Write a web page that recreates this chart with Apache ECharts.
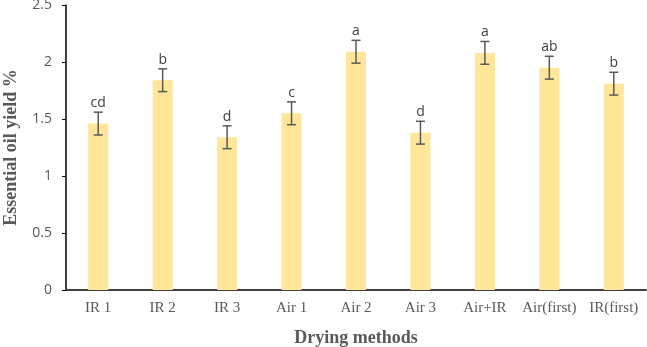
<!DOCTYPE html>
<html>
<head>
<meta charset="utf-8">
<script src="https://cdn.jsdelivr.net/npm/echarts@6/dist/echarts.min.js"></script>
<style>
  html, body { margin: 0; padding: 0; background: #fff; }
  #chart { width: 647px; height: 347px; }
</style>
</head>
<body>
<div id="chart"></div>
<script>
var categories = ['IR 1', 'IR 2', 'IR 3', 'Air 1', 'Air 2', 'Air 3', 'Air+IR', 'Air(first)', 'IR(first)'];
var yieldValues = [1.46, 1.84, 1.34, 1.55, 2.09, 1.38, 2.08, 1.95, 1.81];
var errValues = [0.10, 0.10, 0.10, 0.10, 0.10, 0.10, 0.10, 0.10, 0.10];
var letters = ['cd', 'b', 'd', 'c', 'a', 'd', 'a', 'ab', 'b'];

var chart = echarts.init(document.getElementById('chart'));

var errData = categories.map(function (c, i) {
    return [i, yieldValues[i] - errValues[i], yieldValues[i] + errValues[i]];
});

chart.setOption({
    animation: false,
    grid: { left: 66, right: 1, top: 5, bottom: 57, containLabel: false, outerBoundsMode: 'none' },
    xAxis: {
        type: 'category',
        data: categories,
        name: 'Drying methods',
        nameLocation: 'middle',
        nameGap: 39,
        nameTextStyle: { fontFamily: 'Liberation Serif', fontWeight: 'bold', fontSize: 18, color: '#595959' },
        axisLine: { lineStyle: { color: '#404040', width: 2 } },
        axisTick: { show: false },
        axisLabel: { fontFamily: 'Liberation Serif', fontSize: 15, color: '#595959', margin: 11, interval: 0 }
    },
    yAxis: {
        type: 'value',
        min: 0,
        max: 2.5,
        interval: 0.5,
        name: 'Essential oil yield %',
        nameLocation: 'middle',
        nameGap: 46,
        nameTextStyle: { fontFamily: 'Liberation Serif', fontWeight: 'bold', fontSize: 18, color: '#595959' },
        axisLine: { show: true, lineStyle: { color: '#000', width: 1.5 } },
        axisTick: { show: true, length: 4, lineStyle: { color: '#000' } },
        splitLine: { show: false },
        axisLabel: { fontFamily: 'Open Sans', fontSize: 14, color: '#595959', margin: 14 }
    },
    series: [
        {
            type: 'bar',
            data: yieldValues,
            barWidth: 20,
            itemStyle: { color: '#FFE699' },
            z: 1
        },
        {
            type: 'custom',
            data: errData,
            z: 3,
            renderItem: function (params, api) {
                var x = api.value(0);
                var lo = api.coord([x, api.value(1)]);
                var hi = api.coord([x, api.value(2)]);
                var half = 4.5;
                var style = { stroke: '#595959', lineWidth: 1.5 };
                return {
                    type: 'group',
                    children: [
                        { type: 'line', shape: { x1: lo[0], y1: lo[1], x2: hi[0], y2: hi[1] }, style: style },
                        { type: 'line', shape: { x1: lo[0] - half, y1: lo[1], x2: lo[0] + half, y2: lo[1] }, style: style },
                        { type: 'line', shape: { x1: hi[0] - half, y1: hi[1], x2: hi[0] + half, y2: hi[1] }, style: style },
                        {
                            type: 'text',
                            style: {
                                text: letters[params.dataIndex],
                                x: hi[0],
                                y: hi[1] - 2,
                                align: 'center',
                                verticalAlign: 'bottom',
                                fontFamily: 'Open Sans',
                                fontSize: 14,
                                fill: '#404040'
                            }
                        }
                    ]
                };
            }
        }
    ]
});
</script>
</body>
</html>
